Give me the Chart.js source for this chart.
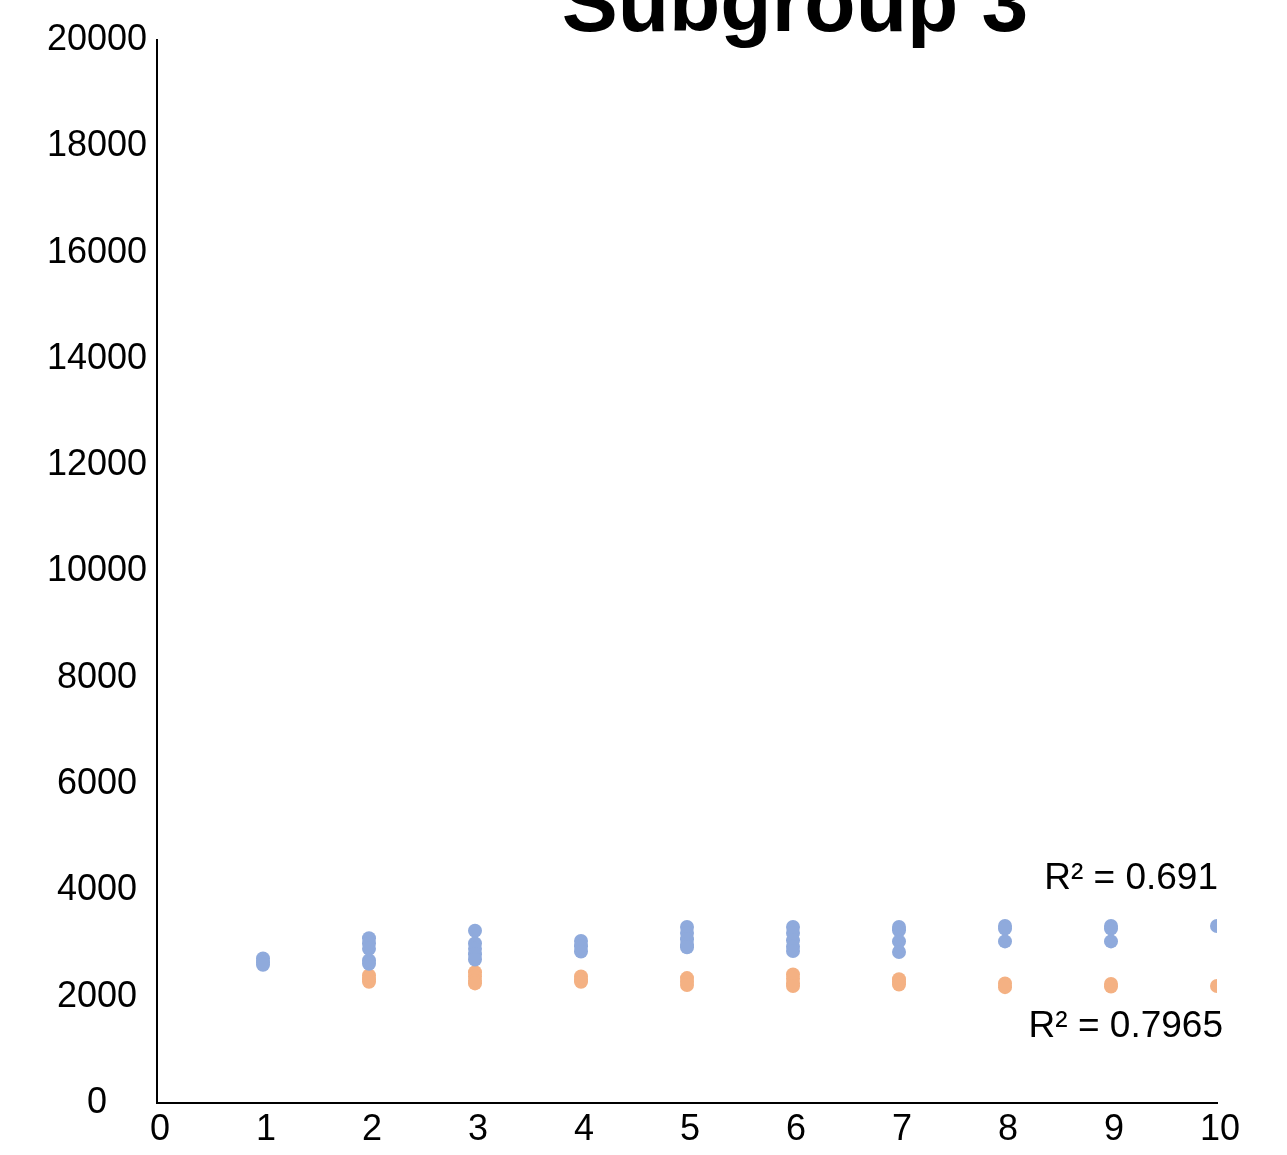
<!DOCTYPE html>
<html>
<head>
<meta charset="utf-8">
<style>
html,body{margin:0;padding:0;background:#fff}
#wrap{width:1287px;height:1155px;position:relative}
</style>
<script src="https://cdn.jsdelivr.net/npm/chart.js@4/dist/chart.umd.min.js"></script>
</head>
<body>
<div id="wrap"><canvas id="c" width="1287" height="1155"></canvas></div>
<script>
// values
const titleText="Subgroup 3";
const xTicks=[0,1,2,3,4,5,6,7,8,9,10];
const yTicks=[0,2000,4000,6000,8000,10000,12000,14000,16000,18000,20000];
const blueX=[1,1,1,2,2,2,2,2,3,3,3,3,3,4,4,4,5,5,5,5,5,6,6,6,6,6,7,7,7,7,8,8,8,9,9,9,10];
const blueY=[2720,2650,2600,3100,3000,2900,2680,2620,3240,3000,2900,2800,2700,3050,2950,2850,3310,3200,3080,2980,2930,3310,3200,3060,2940,2860,3310,3250,3040,2840,3330,3280,3040,3330,3280,3040,3330];
const orangeX=[2,2,2,3,3,3,3,4,4,4,5,5,5,6,6,6,6,7,7,7,8,8,9,9,10];
const orangeY=[2400,2330,2280,2460,2380,2300,2250,2380,2320,2280,2350,2280,2220,2420,2340,2250,2200,2330,2280,2230,2250,2180,2240,2190,2200];
const r2Blue="R² = 0.691",r2Orange="R² = 0.7965";

const FONT='"Liberation Sans",Arial,sans-serif';
const pts=(xs,ys)=>xs.map((x,i)=>({x:x,y:ys[i]}));

const overlay={id:"overlay",afterDraw(chart){
  const ctx=chart.ctx;
  ctx.save();
  ctx.fillStyle="#000";
  ctx.textBaseline="alphabetic";
  ctx.font="bold 84px "+FONT;
  ctx.textAlign="center";
  ctx.fillText(titleText,795,31);
  ctx.font="37px "+FONT;
  ctx.textAlign="right";
  ctx.fillText(r2Blue,1218,889);
  ctx.fillText(r2Orange,1223,1037);
  ctx.restore();
}};

new Chart(document.getElementById("c"),{
  type:"scatter",
  data:{datasets:[
    {label:"a",data:pts(blueX,blueY),backgroundColor:"#8FAADC",borderWidth:0,pointRadius:7,pointHoverRadius:7,order:0},
    {label:"b",data:pts(orangeX,orangeY),backgroundColor:"#F4B183",borderWidth:0,pointRadius:7,pointHoverRadius:7,order:1}
  ]},
  options:{
    responsive:false,animation:false,
    layout:{padding:{left:0,right:70,top:40,bottom:0}},
    plugins:{legend:{display:false},tooltip:{enabled:false},title:{display:false}},
    scales:{
      x:{type:"linear",min:0,max:10,
        afterBuildTicks(s){s.ticks=xTicks.map(v=>({value:v}))},
        afterFit(s){s.height=52},
        grid:{display:false,drawTicks:false},
        border:{display:true,color:"#000",width:2},
        ticks:{color:"#000",font:{family:FONT,size:36},padding:5,labelOffset:3,maxRotation:0,autoSkip:false,callback:v=>String(v)}},
      y:{type:"linear",min:0,max:20000,
        afterBuildTicks(s){s.ticks=yTicks.map(v=>({value:v}))},
        afterFit(s){s.width=157},
        grid:{display:false,drawTicks:false},
        border:{display:true,color:"#000",width:2},
        ticks:{color:"#000",font:{family:FONT,size:36},padding:10,crossAlign:"center",autoSkip:false,callback:v=>String(v)}}
    }
  },
  plugins:[overlay]
});
</script>
</body>
</html>
